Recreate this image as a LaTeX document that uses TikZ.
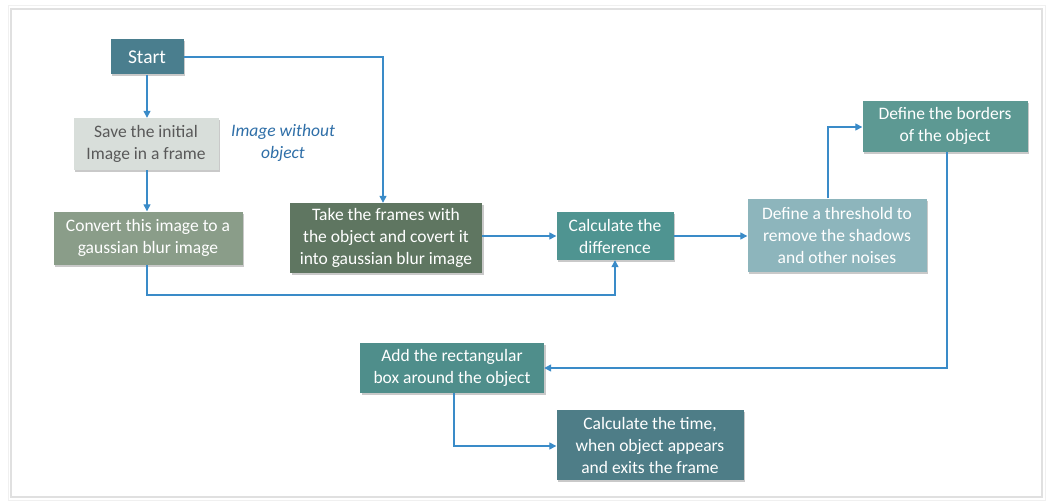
\documentclass[tikz,border=0pt]{standalone}
\usepackage{fontspec}
\setmainfont{Carlito}
\usetikzlibrary{arrows.meta,shadows,positioning}
\definecolor{arrowc}{HTML}{3A8BC8}
\definecolor{cstart}{HTML}{4A7E8E}
\definecolor{csave}{HTML}{D8DEDA}
\definecolor{cconv}{HTML}{8A9D89}
\definecolor{ctake}{HTML}{5F7661}
\definecolor{cdiff}{HTML}{4F9491}
\definecolor{cthr}{HTML}{8DB5BC}
\definecolor{cbord}{HTML}{5D9993}
\definecolor{cadd}{HTML}{4F8E8B}
\definecolor{ctime}{HTML}{4E7D87}
\definecolor{clabel}{HTML}{2F6FA8}
\tikzset{
  x=1pt,y=-1pt,
  box/.style={draw=none,align=center,text=white,font=\fontsize{17.5}{22}\selectfont,
    inner sep=0pt,drop shadow={shadow xshift=1.5pt,shadow yshift=-2pt,opacity=0.35,fill=black!60}},
  conn/.style={draw=arrowc,line width=1.3pt,-{Triangle[length=7pt,width=7pt]}},
}
\begin{document}
\begin{tikzpicture}
\useasboundingbox (0,0) rectangle (1050,503);
\fill[white] (0,0) rectangle (1050,503);
\draw[black!12,line width=2pt] (11,9) rectangle (1042,497);
\draw[black!6,line width=1pt] (8,6) rectangle (1045,500);

\node[box,fill=cstart,minimum width=73pt,minimum height=35pt,font=\fontsize{19.5}{22}\selectfont] (start) at (147,57) {Start};
\node[box,fill=csave,text=black!65,minimum width=145pt,minimum height=52pt] (save) at (146,144) {Save the initial\\Image in a frame};
\node[box,fill=cconv,minimum width=189pt,minimum height=53pt] (conv) at (148,238) {Convert this image to a\\gaussian blur image};
\node[box,fill=ctake,minimum width=192pt,minimum height=70pt] (take) at (386,238) {Take the frames with\\the object and covert it\\into gaussian blur image};
\node[box,fill=cdiff,minimum width=117pt,minimum height=48pt] (diff) at (615,236) {Calculate the\\difference};
\node[box,fill=cthr,minimum width=179pt,minimum height=73pt] (thr) at (837,235) {Define a threshold to\\remove the shadows\\and other noises};
\node[box,fill=cbord,minimum width=165pt,minimum height=51pt] (bord) at (945,126) {Define the borders\\of the object};
\node[box,fill=cadd,minimum width=184pt,minimum height=50pt] (add) at (452,368) {Add the rectangular\\box around the object};
\node[box,fill=ctime,minimum width=187pt,minimum height=70pt] (time) at (650,445) {Calculate the time,\\when object appears\\and exits the frame};
\node[align=center,text=clabel,font=\fontsize{17.5}{22}\selectfont\itshape] (lbl) at (283,143) {Image without\\object};

\coordinate (c0) at (147,0);
\coordinate (c1) at (383,57);
\coordinate (c2) at (147,295);
\coordinate (c3) at (615,295);
\coordinate (c4) at (828,127);
\coordinate (c5) at (947,368);
\coordinate (c6) at (454,446);

\draw[conn] (start.south) -- (save.north -| c0);
\draw[conn] (start.east) -- (c1) -- (c1 |- take.north);
\draw[conn] (save.south -| c0) -- (conv.north -| c0);
\draw[conn] (conv.south -| c0) -- (c2) -- (c3) -- (diff.south);
\draw[conn] (take.east |- diff.west) -- (diff.west);
\draw[conn] (diff.east) -- (thr.west |- diff.east);
\draw[conn] (c4 |- thr.north) -- (c4) -- (bord.west |- c4);
\draw[conn] (c5 |- bord.south) -- (c5) -- (add.east |- c5);
\draw[conn] (c6 |- add.south) -- (c6) -- (time.west |- c6);
\end{tikzpicture}
\end{document}
